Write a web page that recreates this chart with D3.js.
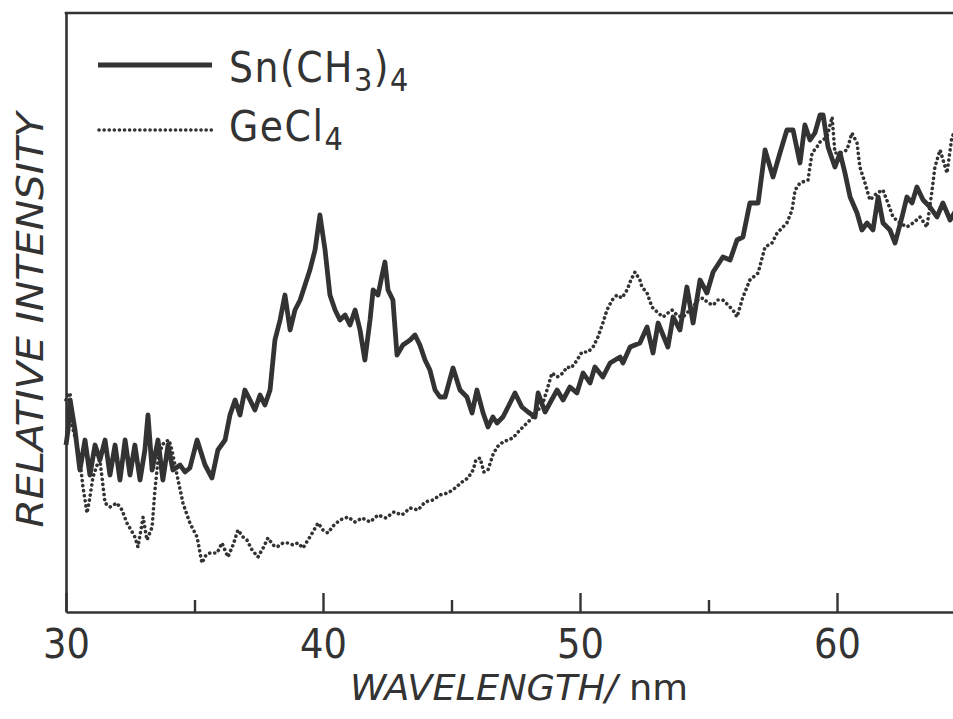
<!DOCTYPE html>
<html>
<head>
<meta charset="utf-8">
<script src="https://cdn.jsdelivr.net/npm/d3@7"></script>
<style>
  body { margin: 0; background: #fff; }
  text { fill: #333; font-family: "DejaVu Sans Condensed", "DejaVu Sans", sans-serif; }
</style>
</head>
<body>
<script>
// wavelength (nm), relative intensity (arb. units)
const snData = [
  [30.00,16.7],[30.08,18.2],[30.16,21.2],[30.35,18.2],[30.54,14.2],[30.74,17.2],[30.93,13.7],[31.13,16.7],[31.32,15.2],[31.52,17.2],
  [31.71,13.7],[31.91,16.7],[32.10,13.2],[32.30,17.2],[32.49,13.7],[32.68,16.7],[32.88,13.2],[33.07,16.2],[33.19,19.7],[33.35,14.2],
  [33.58,17.2],[33.77,13.2],[33.97,16.7],[34.16,14.2],[34.44,14.7],[34.63,14.0],[34.82,14.4],[35.10,17.2],[35.41,14.7],[35.68,13.4],
  [35.91,16.2],[36.19,17.2],[36.38,19.7],[36.58,21.2],[36.77,19.7],[36.96,22.2],[37.16,21.2],[37.35,20.2],[37.55,21.7],[37.74,20.7],
  [37.94,22.2],[38.13,27.2],[38.33,29.2],[38.52,31.7],[38.72,28.2],[38.91,30.2],[39.11,31.2],[39.30,32.7],[39.49,34.2],[39.69,36.2],
  [39.88,39.7],[40.08,36.2],[40.27,31.7],[40.47,30.2],[40.66,29.2],[40.86,29.7],[41.05,28.7],[41.25,30.2],[41.44,28.2],[41.63,25.2],
  [41.83,29.2],[41.95,32.2],[42.14,31.7],[42.30,33.7],[42.41,35.0],[42.53,32.2],[42.72,31.2],[42.88,25.7],[43.11,26.7],[43.39,27.2],
  [43.58,27.7],[43.77,26.7],[43.97,25.2],[44.16,24.2],[44.36,22.2],[44.55,21.5],[44.75,21.5],[45.06,24.4],[45.33,22.2],[45.60,21.5],
  [45.80,19.9],[45.99,22.2],[46.23,19.9],[46.42,18.5],[46.61,19.5],[46.77,18.9],[47.00,19.5],[47.24,20.7],[47.47,21.9],[47.74,20.5],
  [47.98,20.0],[48.25,19.5],[48.37,21.9],[48.64,20.0],[48.83,20.9],[49.11,22.2],[49.34,21.2],[49.61,22.5],[49.88,21.9],[50.12,23.9],
  [50.39,22.9],[50.58,24.5],[50.89,23.5],[51.17,24.9],[51.56,25.5],[51.67,24.9],[51.95,26.5],[52.33,26.9],[52.61,28.5],[52.84,25.9],
  [53.04,28.9],[53.42,26.5],[53.62,29.5],[53.89,28.2],[54.16,32.5],[54.40,28.9],[54.67,33.2],[54.94,31.9],[55.18,34.0],[55.56,35.5],
  [55.84,35.2],[56.11,37.2],[56.34,37.5],[56.61,40.9],[56.93,40.9],[57.20,46.2],[57.51,43.5],[57.78,45.9],[58.05,48.2],[58.29,48.2],
  [58.56,44.9],[58.75,48.7],[58.95,47.2],[59.14,47.9],[59.34,49.7],[59.46,49.7],[59.65,46.5],[59.92,44.5],[60.12,45.9],[60.31,43.9],
  [60.51,41.5],[60.78,39.9],[60.97,38.2],[61.17,38.9],[61.40,38.2],[61.60,41.5],[61.79,38.9],[62.06,38.2],[62.26,36.9],[62.53,39.5],
  [62.72,41.5],[62.92,40.9],[63.11,42.5],[63.35,41.2],[63.62,40.5],[63.89,39.5],[64.12,40.9],[64.40,39.2],[64.59,40.0]
];

const geData = [
  [30.00,21.2],[30.08,21.7],[30.16,21.9],[30.23,18.7],[30.35,17.5],[30.54,15.2],[30.66,12.5],[30.82,9.9],[30.93,11.5],[31.05,13.5],
  [31.21,14.7],[31.32,15.2],[31.52,10.9],[31.71,10.5],[31.98,10.9],[32.18,10.2],[32.37,8.9],[32.53,8.2],[32.68,7.5],[32.80,6.5],
  [33.00,9.5],[33.15,7.2],[33.35,8.5],[33.46,12.2],[33.58,15.2],[33.74,16.7],[33.85,17.0],[34.01,17.2],[34.12,16.2],[34.36,13.2],
  [34.55,10.9],[34.82,8.9],[35.10,7.5],[35.29,4.9],[35.45,5.7],[35.60,5.9],[35.88,5.9],[36.07,6.9],[36.30,5.5],[36.50,6.7],
  [36.69,8.2],[36.89,7.5],[37.04,7.2],[37.24,6.2],[37.47,5.5],[37.67,6.4],[37.86,7.4],[38.05,6.7],[38.21,6.5],[38.44,6.9],
  [38.64,6.9],[38.83,6.7],[39.03,6.9],[39.22,6.4],[39.49,7.5],[39.81,8.9],[40.00,8.2],[40.19,7.9],[40.43,8.7],[40.66,9.2],
  [40.97,9.5],[41.25,9.0],[41.52,9.4],[41.83,9.0],[42.14,9.7],[42.45,9.4],[42.76,10.0],[43.07,9.7],[43.39,10.4],[43.70,10.2],
  [43.97,11.0],[44.28,11.2],[44.55,11.7],[44.86,11.9],[45.14,12.4],[45.41,13.0],[45.64,13.4],[45.84,14.2],[45.95,15.2],[46.11,15.4],
  [46.26,14.0],[46.42,14.2],[46.61,15.7],[46.77,16.5],[47.00,17.0],[47.20,17.2],[47.39,17.4],[47.59,18.0],[47.78,18.5],[47.98,19.0],
  [48.17,19.5],[48.37,20.2],[48.56,20.9],[48.75,22.5],[48.91,23.9],[49.11,23.5],[49.34,23.9],[49.49,24.5],[49.65,24.4],[49.81,24.9],
  [50.08,26.0],[50.31,26.0],[50.51,26.5],[50.70,27.5],[50.89,28.9],[51.05,30.2],[51.25,31.2],[51.44,31.7],[51.63,31.4],[51.83,32.2],
  [51.98,33.2],[52.14,34.0],[52.33,33.2],[52.41,32.5],[52.61,31.9],[52.80,30.5],[53.00,30.0],[53.23,29.5],[53.42,29.9],[53.58,30.2],
  [53.81,29.6],[54.01,29.5],[54.20,30.0],[54.40,30.5],[54.59,31.2],[54.79,31.4],[54.98,30.9],[55.18,30.7],[55.37,31.2],[55.56,31.2],
  [55.76,30.7],[55.95,30.2],[56.11,29.5],[56.34,31.5],[56.61,33.2],[56.93,33.9],[57.20,36.5],[57.47,36.9],[57.67,37.9],[57.86,38.4],
  [58.05,38.9],[58.25,40.2],[58.37,42.2],[58.56,42.9],[58.87,43.2],[59.03,45.9],[59.22,46.5],[59.34,47.0],[59.61,47.5],[59.81,49.5],
  [59.92,45.9],[60.12,45.9],[60.39,46.2],[60.58,47.9],[60.78,46.9],[60.89,44.5],[61.09,42.9],[61.28,41.2],[61.56,41.9],[61.79,42.2],
  [61.98,40.9],[62.18,39.5],[62.45,38.9],[62.72,38.5],[62.96,38.9],[63.23,39.5],[63.50,38.5],[63.70,42.2],[63.81,44.5],[64.01,46.2],
  [64.28,43.9],[64.47,47.5],[64.63,48.2]
];

const majorTicks = [30, 40, 50, 60];
const minorTicks = [35, 45, 55];
const xDomain = [30, 65];
const yDomain = [0, 60];

const width = 953;
const height = 719;
const ink = '#333';
const dots = '0.1 5';

const svg = d3.select('body').append('svg').attr('width', width).attr('height', height);

const x = d3.scaleLinear().domain(xDomain).range([66, 965.5]);
const y = d3.scaleLinear().domain(yDomain).range([612, 12]);

// frame: bottom axis with inward ticks, left axis, top border
const xAxis = svg.append('g').attr('transform', 'translate(0,612)')
  .call(d3.axisBottom(x).tickValues(majorTicks).tickSizeInner(-19).tickSizeOuter(0).tickPadding(17));
xAxis.selectAll('text').attr('font-size', 41).style('fill', ink).attr('font-family', null);
xAxis.select('.domain').attr('stroke', ink).attr('stroke-width', 2.6);
xAxis.selectAll('.tick line').attr('stroke', ink).attr('stroke-width', 2.4);

const xMinor = svg.append('g').attr('transform', 'translate(0,612)')
  .call(d3.axisBottom(x).tickValues(minorTicks).tickSizeInner(-12).tickSizeOuter(0).tickFormat(''));
xMinor.select('.domain').remove();
xMinor.selectAll('.tick line').attr('stroke', ink).attr('stroke-width', 2.4);

const yAxis = svg.append('g').attr('transform', 'translate(66,0)')
  .call(d3.axisLeft(y).tickValues([]).tickSizeOuter(0));
yAxis.select('.domain').attr('stroke', ink).attr('stroke-width', 2.6);

svg.append('line')
  .attr('x1', x(30) - 1.3).attr('x2', width).attr('y1', 13).attr('y2', 13)
  .attr('stroke', ink).attr('stroke-width', 2.6);

// axis titles
svg.append('text')
  .attr('transform', 'translate(43,320) rotate(-90)')
  .attr('text-anchor', 'middle')
  .attr('font-size', 37).attr('font-style', 'italic')
  .attr('textLength', 415).attr('lengthAdjust', 'spacingAndGlyphs')
  .text('RELATIVE INTENSITY');

const xTitle = svg.append('text').attr('x', 350).attr('y', 700).attr('font-size', 36)
  .attr('textLength', 338).attr('lengthAdjust', 'spacingAndGlyphs');
xTitle.append('tspan').attr('font-style', 'italic').text('WAVELENGTH/');
xTitle.append('tspan').text(' nm');

// spectra
const line = d3.line().x(d => x(d[0])).y(d => y(d[1]));

svg.append('path').datum(geData)
  .attr('d', line).attr('fill', 'none')
  .attr('stroke', ink).attr('stroke-width', 3.6)
  .attr('stroke-dasharray', dots).attr('stroke-linecap', 'round');

svg.append('path').datum(snData)
  .attr('d', line).attr('fill', 'none')
  .attr('stroke', ink).attr('stroke-width', 4.8)
  .attr('stroke-linejoin', 'round');

// legend
const legend = svg.append('g');
legend.append('line').attr('x1', 98).attr('x2', 212).attr('y1', 65).attr('y2', 65)
  .attr('stroke', ink).attr('stroke-width', 4.8);
legend.append('line').attr('x1', 99).attr('x2', 212).attr('y1', 130).attr('y2', 130)
  .attr('stroke', ink).attr('stroke-width', 3.6)
  .attr('stroke-dasharray', dots).attr('stroke-linecap', 'round');

const snLabel = legend.append('text').attr('x', 229).attr('y', 82).attr('font-size', 42)
  .attr('letter-spacing', 1.5);
snLabel.append('tspan').text('Sn(CH');
snLabel.append('tspan').attr('font-size', 32).attr('dy', 9).text('3');
snLabel.append('tspan').attr('dy', -9).text(')');
snLabel.append('tspan').attr('font-size', 32).attr('dy', 9).text('4');

const geLabel = legend.append('text').attr('x', 229).attr('y', 141).attr('font-size', 42)
  .attr('letter-spacing', 1.5);
geLabel.append('tspan').text('GeCl');
geLabel.append('tspan').attr('font-size', 32).attr('dy', 9).text('4');
</script>
</body>
</html>
